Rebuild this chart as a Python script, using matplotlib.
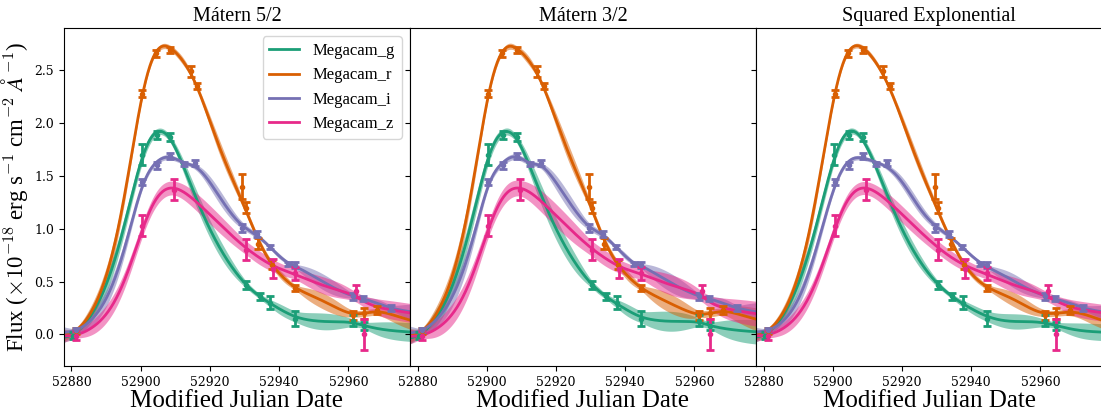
import numpy as np
import matplotlib
matplotlib.use("Agg")
import matplotlib.pyplot as plt

plt.rcParams["mathtext.fontset"] = "cm"

# Photometry (MJD, flux, 1-sigma error) per Megacam band
g_mjd = [52880.5, 52900.4, 52904.6, 52908.6, 52930.4, 52934.4, 52937.5, 52944.6, 52961.4, 52964.5]
g_flux = [-0.01, 1.70, 1.89, 1.87, 0.47, 0.36, 0.30, 0.15, 0.13, 0.08]
g_err = [0.03, 0.10, 0.04, 0.04, 0.04, 0.03, 0.06, 0.07, 0.05, 0.04]

r_mjd = [52881.3, 52900.5, 52904.4, 52908.6, 52914.5, 52916.4, 52929.4, 52930.3, 52934.0, 52937.8,
         52944.6, 52961.4, 52964.5, 52968.4]
r_flux = [0.03, 2.28, 2.66, 2.69, 2.49, 2.35, 1.40, 1.20, 0.86, 0.66, 0.44, 0.18, 0.20, 0.23]
r_err = [0.03, 0.03, 0.03, 0.03, 0.05, 0.03, 0.12, 0.05, 0.05, 0.04, 0.03, 0.04, 0.05, 0.04]

i_mjd = [52881.3, 52900.5, 52904.6, 52908.6, 52912.5, 52915.7, 52929.4, 52933.5, 52937.3, 52942.6,
         52944.6, 52961.4, 52964.3, 52972.3]
i_flux = [0.04, 1.44, 1.60, 1.69, 1.61, 1.62, 1.01, 0.95, 0.83, 0.67, 0.66, 0.36, 0.34, 0.25]
i_err = [0.02, 0.03, 0.03, 0.03, 0.02, 0.03, 0.04, 0.03, 0.02, 0.02, 0.03, 0.03, 0.02, 0.03]

z_mjd = [52881.3, 52900.5, 52909.6, 52930.3, 52938.3, 52944.6, 52962.2, 52964.5]
z_flux = [-0.01, 1.03, 1.37, 0.80, 0.62, 0.58, 0.41, 0.00]
z_err = [0.04, 0.10, 0.10, 0.10, 0.09, 0.06, 0.06, 0.15]

band_names = ["Megacam_g", "Megacam_r", "Megacam_i", "Megacam_z"]
band_colors = ["#1b9e77", "#d95f02", "#7570b3", "#e7298a"]
bands = [(g_mjd, g_flux, g_err), (r_mjd, r_flux, r_err), (i_mjd, i_flux, i_err), (z_mjd, z_flux, z_err)]

kernel_titles = ["Mátern 5/2", "Mátern 3/2", "Squared Explonential"]
# GP hyperparameters on the residuals: (amplitude, time scale [d])
kernel_params = [(0.09, 7.0), (0.12, 9.0), (0.08, 6.0)]

xticks = [52880, 52900, 52920, 52940, 52960]
yticks = [0.0, 0.5, 1.0, 1.5, 2.0, 2.5]
xlim = (52877.8, 52977.8)
ylim = (-0.30, 2.90)


def bazin(a, t0, ltf, ltr, sb, t):
    x = t - t0
    rise = np.exp(np.clip(-x / np.exp(ltr), -50, 50))
    fall = np.exp(np.clip(-x / np.exp(ltf), -50, 50))
    return a * fall / (1.0 + rise) + np.log1p(np.exp(sb))


def band_mean(p, j, t):
    # shared explosion epoch and rise time, per-band amplitude, decline and baseline
    return bazin(p[2 + 3 * j], p[0], p[3 + 3 * j], p[1], p[4 + 3 * j], t)


def fit_mean(data):
    """Levenberg-Marquardt fit of a multi-band Bazin model."""
    p = [52900.0, np.log(4.0)]
    for t, y, e in data:
        p += [1.6 * y.max(), np.log(20.0), -3.0]
    p = np.array(p)

    def chi(q):
        return np.concatenate([(y - band_mean(q, j, t)) / e for j, (t, y, e) in enumerate(data)])

    lam = 1e-2
    r = chi(p)
    for _ in range(500):
        J = np.empty((len(r), len(p)))
        for j in range(len(p)):
            dp = np.zeros_like(p)
            dp[j] = 1e-5 * max(1.0, abs(p[j])) if j else 1e-3
            J[:, j] = -(chi(p + dp) - r) / dp[j]
        A = J.T @ J
        step = np.linalg.solve(A + lam * np.diag(np.diag(A) + 1e-9), J.T @ r)
        q = p + step
        rq = chi(q)
        if np.sum(rq ** 2) < np.sum(r ** 2):
            p, r = q, rq
            lam = max(lam / 3.0, 1e-7)
        else:
            lam *= 4.0
    return p


def kernel(d, kind):
    if kind == 0:
        s = np.sqrt(5.0) * d
        return (1 + s + s ** 2 / 3.0) * np.exp(-s)
    if kind == 1:
        s = np.sqrt(3.0) * d
        return (1 + s) * np.exp(-s)
    return np.exp(-0.5 * d ** 2)


fig, axes = plt.subplots(1, 3, figsize=(11.01, 4.18), dpi=100, sharey=True)
fig.subplots_adjust(left=0.058, right=1.001, top=0.933, bottom=0.124, wspace=0)

tt = np.linspace(xlim[0], xlim[1], 500)
data = [tuple(np.asarray(v, dtype=float) for v in b) for b in bands]
pm = fit_mean(data)

for k, ax in enumerate(axes):
    amp, lt = kernel_params[k]
    for j, ((t, y, e), name, c) in enumerate(zip(data, band_names, band_colors)):
        K = amp ** 2 * kernel(np.abs(t[:, None] - t[None, :]) / lt, k) + np.diag(e ** 2)
        Ks = amp ** 2 * kernel(np.abs(tt[:, None] - t[None, :]) / lt, k)
        mu = band_mean(pm, j, tt) + Ks @ np.linalg.solve(K, y - band_mean(pm, j, t))
        var = amp ** 2 - np.sum(Ks * np.linalg.solve(K, Ks.T).T, axis=1)
        sd = np.sqrt(np.clip(var, 0, None))
        ax.fill_between(tt, mu - sd, mu + sd, color=c, alpha=0.5, lw=0)
        ax.plot(tt, mu, color=c, lw=2, label=name)
        ax.errorbar(t, y, yerr=e, fmt="o", ms=3, color=c, elinewidth=2, capsize=3,
                    capthick=2, zorder=3)
    ax.set_xlim(*xlim)
    ax.set_ylim(*ylim)
    ax.set_xticks(xticks)
    ax.set_yticks(yticks)
    ax.tick_params(labelsize=9)
    for lab in ax.get_xticklabels() + ax.get_yticklabels():
        lab.set_fontfamily("DejaVu Serif")
    ax.set_title(kernel_titles[k], fontsize=14.5, family="Liberation Serif", pad=5)
    ax.set_xlabel("Modified Julian Date", fontsize=18, family="Liberation Serif", labelpad=1)

axes[0].set_ylabel(r"Flux ($\times10^{-18}$ erg s$^{-1}$ cm$^{-2}$ $\AA^{-1}$)",
                   fontsize=16.5, family="Liberation Serif", labelpad=3)
axes[0].legend(loc="upper right", prop={"family": "Liberation Serif", "size": 12},
               handlelength=1.8)

fig.savefig("out.png", dpi=100)
